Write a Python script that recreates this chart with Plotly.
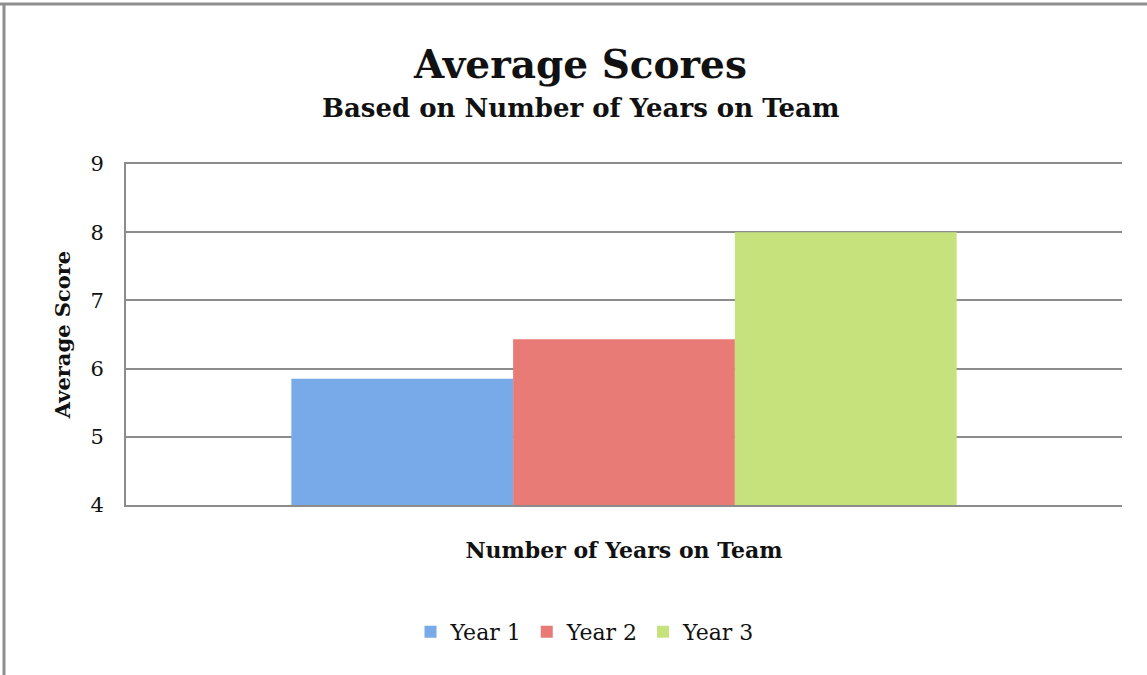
import plotly.graph_objects as go

categories = [""]
series_names = ["Year 1", "Year 2", "Year 3"]
values = [5.85, 6.43, 8.0]
colors = ["#78aaea", "#e97b76", "#c5e27d"]
y_ticks = [4, 5, 6, 7, 8, 9]

FONT = "DejaVu Serif"

fig = go.Figure()
for name, v, c in zip(series_names, values, colors):
    fig.add_trace(go.Bar(x=categories, y=[v], name=name, marker=dict(color=c, line=dict(width=0))))

W, H = 1147, 675
L, R, T, B = 126, 25, 164, 170
pw, ph = W - L - R, H - T - B

def px(x):
    return (x - L) / pw

def py(y):
    return (H - B - y) / ph

fig.update_layout(
    width=W, height=H,
    margin=dict(l=L, r=R, t=T, b=B),
    paper_bgcolor="white", plot_bgcolor="white",
    barmode="group", bargap=0.332, bargroupgap=0,
    font=dict(family=FONT, color="#111111"),
    showlegend=True,
    legend=dict(orientation="h", x=px(585), xanchor="center", y=py(632), yanchor="middle",
                font=dict(size=22, family=FONT), itemwidth=30, traceorder="normal"),
    xaxis=dict(showticklabels=False, showgrid=False, showline=True, mirror=True,
               linecolor="#8c8c8c", linewidth=2,
               title=dict(text="<b>Number of Years on Team</b>", font=dict(size=22, family=FONT), standoff=37)),
    yaxis=dict(range=[4, 9], tickvals=y_ticks, showgrid=True, gridcolor="#8c8c8c", gridwidth=2,
               showline=True, linecolor="#8c8c8c", linewidth=2, zeroline=False,
               tickfont=dict(size=21, family=FONT), ticklabelstandoff=16,
               title=dict(text="<b>Average Score</b>", font=dict(size=21, family=FONT), standoff=14)),
    annotations=[
        dict(text="<b>Average Scores</b>", xref="paper", yref="paper", x=px(580), y=py(64),
             xanchor="center", yanchor="middle", showarrow=False, font=dict(size=39, family=FONT, color="#111111")),
        dict(text="<b>Based on Number of Years on Team</b>", xref="paper", yref="paper", x=px(580), y=py(108),
             xanchor="center", yanchor="middle", showarrow=False, font=dict(size=26, family=FONT, color="#111111")),
    ],
    shapes=[
        dict(type="line", xref="paper", yref="paper", x0=px(0), x1=px(1147), y0=py(4), y1=py(4),
             line=dict(color="#8f8f8f", width=3)),
        dict(type="line", xref="paper", yref="paper", x0=px(4), x1=px(4), y0=py(4), y1=py(675),
             line=dict(color="#8f8f8f", width=3)),
    ],
)

fig.write_html("out.html", config={"displayModeBar": False},
               post_script="document.body.style.margin='0';")
